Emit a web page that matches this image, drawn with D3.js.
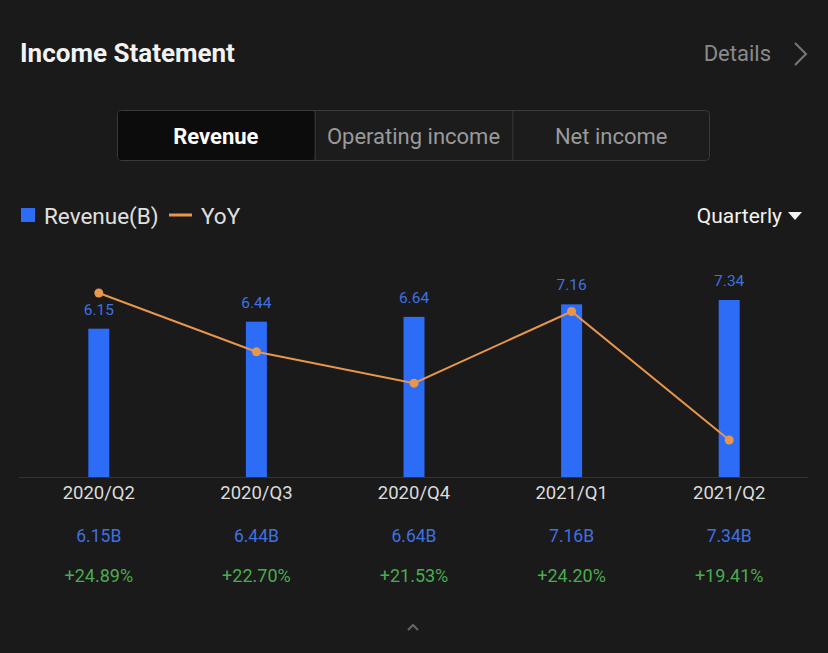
<!DOCTYPE html>
<html>
<head>
<meta charset="utf-8">
<script src="https://cdn.jsdelivr.net/npm/d3@7"></script>
<style>
  html, body { margin: 0; padding: 0; background: #1a1a1a; }
  svg { display: block; font-family: Roboto, "Noto Sans", sans-serif; }
</style>
</head>
<body>
<svg id="chart" width="828" height="653"></svg>
<script>
const categories = ["2020/Q2", "2020/Q3", "2020/Q4", "2021/Q1", "2021/Q2"];
const revenue = [6.15, 6.44, 6.64, 7.16, 7.34];
const yoy = [24.89, 22.70, 21.53, 24.20, 19.41];
const revenueLabels = ["6.15B", "6.44B", "6.64B", "7.16B", "7.34B"];
const yoyLabels = ["+24.89%", "+22.70%", "+21.53%", "+24.20%", "+19.41%"];
const tabs = ["Revenue", "Operating income", "Net income"];

const svg = d3.select("#chart");
svg.append("rect").attr("width", 828).attr("height", 653).attr("fill", "#1a1a1a");

// Header
svg.append("text").attr("x", 20).attr("y", 62).attr("fill", "#f2f2f2")
  .attr("font-size", 26).attr("font-weight", 700).text("Income Statement");
svg.append("text").attr("x", 771).attr("y", 61).attr("text-anchor", "end").attr("fill", "#8a8a8a")
  .attr("font-size", 22).text("Details");
svg.append("polyline").attr("points", "795,43 806,54 795,65").attr("fill", "none")
  .attr("stroke", "#777").attr("stroke-width", 2);

// Tabs
const tabX = d3.scaleBand().domain(tabs).range([117, 710]);
svg.append("rect").attr("x", 117.5).attr("y", 110.5).attr("width", 592).attr("height", 50).attr("rx", 4)
  .attr("fill", "#1c1c1c").attr("stroke", "#3a3a3a");
svg.append("rect").attr("x", 118).attr("y", 111).attr("width", tabX.bandwidth() - 1).attr("height", 49)
  .attr("rx", 3).attr("fill", "#0c0c0c");
tabs.slice(1).forEach(t => {
  svg.append("line").attr("x1", tabX(t) + 0.5).attr("x2", tabX(t) + 0.5).attr("y1", 111).attr("y2", 160)
    .attr("stroke", "#3a3a3a");
});
svg.selectAll("text.tab").data(tabs).enter().append("text").attr("class", "tab")
  .attr("x", d => tabX(d) + tabX.bandwidth() / 2).attr("y", 144).attr("text-anchor", "middle")
  .attr("font-size", 22).attr("font-weight", (d, i) => i === 0 ? 700 : 400)
  .attr("fill", (d, i) => i === 0 ? "#ffffff" : "#9a9a9a").text(d => d);

// Legend
svg.append("rect").attr("x", 21).attr("y", 208).attr("width", 14).attr("height", 14).attr("fill", "#2d6cf6");
svg.append("text").attr("x", 44).attr("y", 224).attr("fill", "#e0e0e0").attr("font-size", 22.5).text("Revenue(B)");
svg.append("line").attr("x1", 169).attr("x2", 192).attr("y1", 215).attr("y2", 215)
  .attr("stroke", "#e8964b").attr("stroke-width", 3);
svg.append("text").attr("x", 201).attr("y", 224).attr("fill", "#e0e0e0").attr("font-size", 22.5).text("YoY");
svg.append("text").attr("x", 782).attr("y", 223).attr("text-anchor", "end").attr("fill", "#f2f2f2")
  .attr("font-size", 21).text("Quarterly");
svg.append("polygon").attr("points", "788,212 802,212 795,220").attr("fill", "#f2f2f2");

// Scales
const x = d3.scaleBand().domain(categories).range([20, 808]);
const y = d3.scaleLinear().domain([0, d3.max(revenue)]).range([477, 300]);
const y2 = d3.scaleLinear().domain([d3.min(yoy), d3.max(yoy)]).range([440, 293]);
const cx = d => x(d) + x.bandwidth() / 2;
const barW = 21;

// Axis baseline
svg.append("line").attr("x1", 19).attr("x2", 808).attr("y1", 477.5).attr("y2", 477.5)
  .attr("stroke", "#333").attr("stroke-width", 1);

// Bars
svg.selectAll("rect.bar").data(revenue).enter().append("rect").attr("class", "bar")
  .attr("x", (d, i) => cx(categories[i]) - barW / 2).attr("width", barW)
  .attr("y", d => y(d)).attr("height", d => y(0) - y(d)).attr("fill", "#2d6cf6");

// Bar value labels
svg.selectAll("text.val").data(revenue).enter().append("text").attr("class", "val")
  .attr("x", (d, i) => cx(categories[i])).attr("y", d => y(d) - 14).attr("text-anchor", "middle")
  .attr("font-size", 15.5).attr("fill", "#3f71e0").text(d => d.toFixed(2));

// YoY line
const line = d3.line().x((d, i) => cx(categories[i])).y(d => y2(d));
svg.append("path").datum(yoy).attr("d", line).attr("fill", "none")
  .attr("stroke", "#e8964b").attr("stroke-width", 2);
svg.selectAll("circle.pt").data(yoy).enter().append("circle").attr("class", "pt")
  .attr("cx", (d, i) => cx(categories[i])).attr("cy", d => y2(d)).attr("r", 4.5).attr("fill", "#e8964b");

// Category labels
const xAxis = d3.axisBottom(x).tickSize(0).tickPadding(0);
const gx = svg.append("g").attr("transform", "translate(0,486)").call(xAxis);
gx.select(".domain").remove();
gx.selectAll("text").attr("font-size", 18.5).attr("fill", "#dcdcdc").attr("dy", "0.71em")
  .attr("font-family", "Roboto, 'Noto Sans', sans-serif");

// Rows below
svg.selectAll("text.rev").data(revenueLabels).enter().append("text").attr("class", "rev")
  .attr("x", (d, i) => cx(categories[i])).attr("y", 542).attr("text-anchor", "middle")
  .attr("font-size", 17.5).attr("fill", "#3f71e0").text(d => d);
svg.selectAll("text.yoy").data(yoyLabels).enter().append("text").attr("class", "yoy")
  .attr("x", (d, i) => cx(categories[i])).attr("y", 582).attr("text-anchor", "middle")
  .attr("font-size", 18).attr("fill", "#4caa52").text(d => d);

// Bottom caret
svg.append("polyline").attr("points", "408,630 413,625 418,630").attr("fill", "none")
  .attr("stroke", "#666").attr("stroke-width", 2);
</script>
</body>
</html>
